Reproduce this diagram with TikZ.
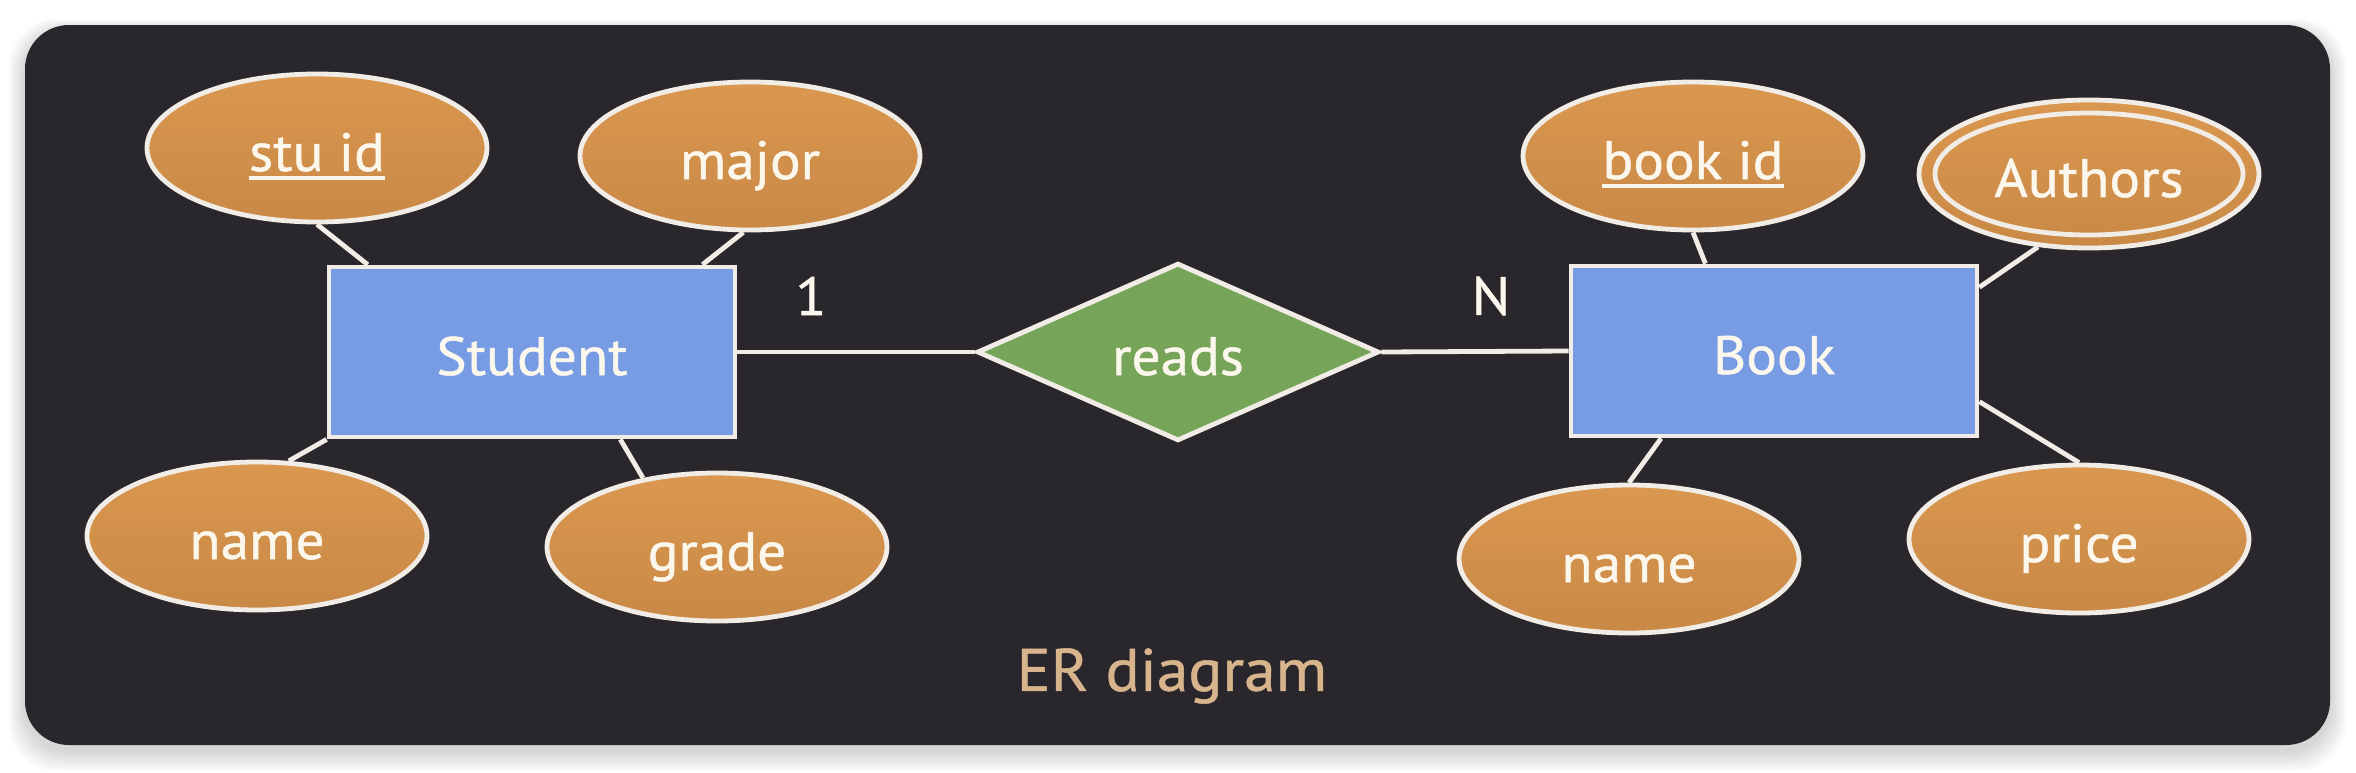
\documentclass[tikz,border=0pt]{standalone}
\usepackage{fontspec}
\setmainfont{PT Sans}[FakeBold=0.9, FakeStretch=1.06]
\usetikzlibrary{shapes.geometric,calc}
\definecolor{panelbg}{HTML}{29272B}
\definecolor{edgecol}{HTML}{F1EDE6}
\definecolor{attrtop}{HTML}{DA974F}
\definecolor{attrbot}{HTML}{C98946}
\definecolor{entfill}{HTML}{789CE4}
\definecolor{relfill}{HTML}{76A55A}
\definecolor{txtcol}{HTML}{FBF7EC}
\definecolor{captcol}{HTML}{D8B48D}
\newcommand\lblfont{\fontsize{27}{30}\selectfont}
\newcommand\myul[1]{\setbox0\hbox{#1}\rlap{\raisebox{-4.5pt}{\rule{\wd0}{2pt}}}\box0}
\begin{document}
\begin{tikzpicture}[x=0.5pt,y=-0.5pt,
  lbl/.style={text=txtcol, font=\lblfont, text height=23pt, text depth=0pt},
  attr/.style={ellipse, draw=edgecol, line width=2.4pt, top color=attrtop, bottom color=attrbot,
    minimum width=170pt, minimum height=74pt, inner sep=0pt, lbl},
  entity/.style={rectangle, draw=edgecol, line width=2.4pt, fill=entfill,
    minimum width=203pt, minimum height=85pt, inner sep=0pt, lbl},
  rel/.style={diamond, draw=edgecol, line width=2.4pt, fill=relfill,
    minimum width=201pt, minimum height=85pt, inner sep=0pt, lbl},
  link/.style={draw=edgecol, line width=2.4pt},
  card/.style={text=txtcol, font=\lblfont, inner sep=0pt}]
\useasboundingbox (0,0) rectangle (2356,772);
\fill[white] (0,0) rectangle (2356,772);
% soft shadow
\foreach \i in {1,...,8}{
  \fill[black, opacity=0.018, rounded corners=24pt] ($(25,25)+(-\i*2,-\i*1.5+6)$) rectangle ($(2330,745)+(\i*2,\i*2.5+6)$);
}
\fill[panelbg, rounded corners=22pt] (25,25) rectangle (2330,745);

% connectors (drawn first, nodes cover their ends)
\coordinate (dummy) at (0,0);

% entities and relationship
\node[entity] (student) at (532,352) {Student};
\node[entity] (book) at (1774,351) {Book};
\node[rel] (reads) at (1178,352) {reads};

% attributes
\node[attr] (stuid) at (317,148) {\myul{stu id}};
\node[attr] (major) at (750,156) {major};
\node[attr] (nameL) at (257,536) {name};
\node[attr] (grade) at (717,547) {grade};
\node[attr] (bookid) at (1693,156) {\myul{book id}};
\node[attr] (authors) at (2089,174) {};
\node[ellipse, draw=edgecol, line width=2.4pt, minimum width=154pt, minimum height=61pt,
  inner sep=0pt, lbl] (authorsin) at (authors.center) {Authors};
\node[attr] (nameR) at (1629,559) {name};
\node[attr] (price) at (2079,539) {price};

\path[link] (stuid.south) -- ($(student.north west)!0.1!(student.north east)$);
\path[link] (major.265) -- ($(student.north west)!0.915!(student.north east)$);
\path[link] (nameL.67) -- (student.south west);
\path[link] (grade.137) -- ($(student.south west)!0.715!(student.south east)$);
\path[link] (bookid.south) -- ($(book.north west)!0.333!(book.north east)$);
\path[link] (authors.235) -- ($(book.north east)!0.135!(book.south east)$);
\path[link] (nameR.north) -- ($(book.south west)!0.225!(book.south east)$);
\path[link] (price.north) -- ($(book.north east)!0.79!(book.south east)$);
\path[link] (student.east) -- (reads.west);
\path[link] (reads.east) -- (book.west);

% cardinalities
\node[card] (one) at (811,296) {1};
\node[card] (many) at (1491,296) {N};

% caption
\node[text=captcol, font=\fontsize{30}{34}\selectfont, inner sep=0pt] (caption) at (1172,676) {ER diagram};
\end{tikzpicture}
\end{document}
